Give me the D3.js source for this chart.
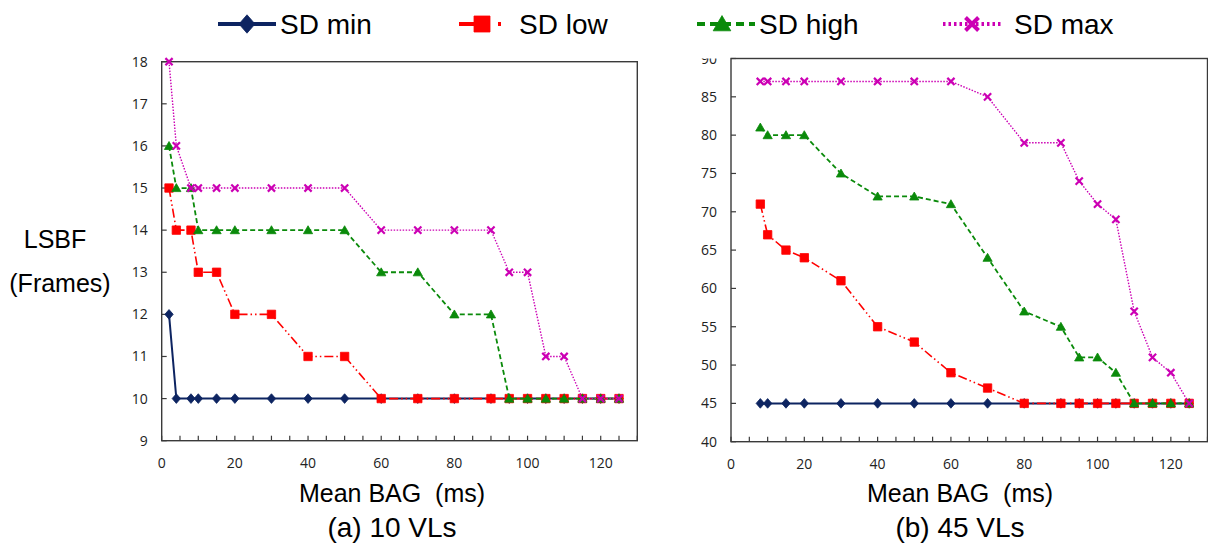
<!DOCTYPE html>
<html><head><meta charset="utf-8">
<script src="https://cdn.jsdelivr.net/npm/d3@7"></script>
<style>html,body{margin:0;padding:0;background:#fff;} svg{display:block;}</style>
</head><body>
<svg id="c" width="1208" height="549"></svg>
<script>
// ---- data ----
const seriesNames = ["SD min", "SD low", "SD high", "SD max"];
const xLeft = [2,4,8,10,15,20,30,40,50,60,70,80,90,95,100,105,110,115,120,125];
const leftMin  = [12,10,10,10,10,10,10,10,10,10,10,10,10,10,10,10,10,10,10,10];
const leftLow  = [15,14,14,13,13,12,12,11,11,10,10,10,10,10,10,10,10,10,10,10];
const leftHigh = [16,15,15,14,14,14,14,14,14,13,13,12,12,10,10,10,10,10,10,10];
const leftMax  = [18,16,15,15,15,15,15,15,15,14,14,14,14,13,13,11,11,10,10,10];
const xRight = [8,10,15,20,30,40,50,60,70,80,90,95,100,105,110,115,120,125];
const rightMin  = [45,45,45,45,45,45,45,45,45,45,45,45,45,45,45,45,45,45];
const rightLow  = [71,67,65,64,61,55,53,49,47,45,45,45,45,45,45,45,45,45];
const rightHigh = [81,80,80,80,75,72,72,71,64,57,55,51,51,49,45,45,45,45];
const rightMax  = [87,87,87,87,87,87,87,87,85,79,79,74,71,69,57,51,49,45];
const xTickLabels = [0,20,40,60,80,100,120];
const leftYTicks = [9,10,11,12,13,14,15,16,17,18];
const rightYTicks = [40,45,50,55,60,65,70,75,80,85,90];
const xTitle = "Mean BAG  (ms)";
const panelTitles = ["(a) 10 VLs", "(b) 45 VLs"];
const yTitle = ["LSBF", "(Frames)"];

// ---- styles ----
const styles = {
  "SD min":  {color:"#0d2461", dash:null, w:2, marker:"diamond"},
  "SD low":  {color:"#ff0000", dash:"9,3,1.5,3,1.5,3", w:1.6, marker:"square"},
  "SD high": {color:"#0a8a0a", dash:"5,3", w:1.8, marker:"triangle"},
  "SD max":  {color:"#cc00b4", dash:"1.5,1.5", w:1.4, marker:"x"}
};
const svg = d3.select("#c");
const tickFont = "'Open Sans', sans-serif";
const arial = "'Liberation Sans', Arial, sans-serif";

function markerPath(type, s) {
  if (type === "diamond") return `M0,${-s*1.15}L${s},0L0,${s*1.15}L${-s},0Z`;
  if (type === "square") return `M${-s},${-s}H${s}V${s}H${-s}Z`;
  if (type === "triangle") return `M0,${-s*1.05}L${s*1.1},${s*0.85}L${-s*1.1},${s*0.85}Z`;
  return `M${-s},${-s}L${s},${s}M${-s},${s}L${s},${-s}`;
}
function drawMarker(g, type, color, s, sw) {
  const p = g.append("path").attr("d", markerPath(type, s));
  if (type === "x") p.attr("fill","none").attr("stroke",color).attr("stroke-width",sw||2.2);
  else p.attr("fill",color).attr("stroke",color).attr("stroke-width",0.8).attr("stroke-linejoin","round");
  return p;
}

function panel(cfg) {
  const x = d3.scaleLinear().domain([0,130]).range(cfg.xr);
  const y = d3.scaleLinear().domain(cfg.yd).range(cfg.yr);
  const g = svg.append("g");
  const [x0,x1] = cfg.xr, [yb,yt] = cfg.yr;
  g.append("rect").attr("x",x0).attr("y",yt).attr("width",x1-x0).attr("height",yb-yt)
    .attr("fill","none").attr("stroke","#3a3a3a").attr("stroke-width",1.4);
  g.selectAll(".xt").data(d3.range(0,131,5)).enter().append("line")
    .attr("x1",d=>x(d)).attr("x2",d=>x(d)).attr("y1",yb).attr("y2",yb-5)
    .attr("stroke","#3a3a3a").attr("stroke-width",1.2);
  g.selectAll(".xl").data(xTickLabels).enter().append("text")
    .attr("x",d=>x(d)).attr("y",yb+27).attr("text-anchor","middle")
    .attr("font-family",tickFont).attr("font-size",14).attr("fill","#222").text(d=>d);
  g.selectAll(".yt").data(cfg.yticks).enter().append("line")
    .attr("x1",x0).attr("x2",x0+5).attr("y1",d=>y(d)).attr("y2",d=>y(d))
    .attr("stroke","#3a3a3a").attr("stroke-width",1.2);
  g.selectAll(".yl").data(cfg.yticks).enter().append("text")
    .attr("x",x0-14).attr("y",d=>y(d)+5).attr("text-anchor","end")
    .attr("font-family",tickFont).attr("font-size",14).attr("fill","#222").text(d=>d);
  cfg.series.forEach((vals,i) => {
    const st = styles[seriesNames[i]];
    const pts = cfg.xs.map((xv,j)=>[xv, vals[j]]);
    const line = d3.line().x(d=>x(d[0])).y(d=>y(d[1]));
    const p = g.append("path").attr("d", line(pts)).attr("fill","none")
      .attr("stroke", st.color).attr("stroke-width", st.w);
    if (st.dash) p.attr("stroke-dasharray", st.dash);
    pts.forEach(d => {
      const mg = g.append("g").attr("transform",`translate(${x(d[0])},${y(d[1])})`);
      drawMarker(mg, st.marker, st.color, st.marker==="x"?3.6:4.2, 2.2);
    });
  });
  svg.append("text").attr("x",cfg.titleX).attr("y",502).attr("text-anchor","middle")
    .attr("font-family",arial).attr("font-size",25).attr("fill","#000")
    .style("white-space","pre").text(xTitle);
  svg.append("text").attr("x",cfg.titleX).attr("y",537).attr("text-anchor","middle")
    .attr("font-family",arial).attr("font-size",28).attr("fill","#000").text(cfg.title);
}

panel({xr:[161.7,637.3], yd:[9,18], yr:[440.7,61.7], yticks:leftYTicks, xs:xLeft,
  series:[leftMin,leftLow,leftHigh,leftMax], titleX:392, title:panelTitles[0]});
panel({xr:[731,1207.5], yd:[40,90], yr:[441.7,58.5], yticks:rightYTicks, xs:xRight,
  series:[rightMin,rightLow,rightHigh,rightMax], titleX:960, title:panelTitles[1]});
// top of right image is cropped: hide upper part of "90"
svg.append("rect").attr("x",690).attr("y",38).attr("width",36).attr("height",20.5).attr("fill","#fff");

svg.append("text").attr("x",55).attr("y",248).attr("text-anchor","middle")
  .attr("font-family",arial).attr("font-size",25).attr("fill","#000").text(yTitle[0]);
svg.append("text").attr("x",60).attr("y",292).attr("text-anchor","middle")
  .attr("font-family",arial).attr("font-size",25).attr("fill","#000").text(yTitle[1]);

const legendPos = [{l0:218,l1:276,m:247,t:280},{l0:459,l1:506,m:482,t:519},
                   {l0:697,l1:755,m:722,t:759},{l0:943,l1:1002,m:972,t:1014}];
seriesNames.forEach((n,i) => {
  const st = styles[n], p = legendPos[i];
  const lg = svg.append("g");
  const ln = lg.append("line").attr("x1",p.l0).attr("x2",p.l1).attr("y1",24).attr("y2",24)
    .attr("stroke",st.color).attr("stroke-width",4);
  if (n==="SD low") ln.attr("stroke-dasharray","30,9,3,9");
  if (n==="SD high") ln.attr("stroke-dasharray","8,5");
  if (n==="SD max") ln.attr("stroke-dasharray","2.5,3");
  const mg = lg.append("g").attr("transform",`translate(${p.m},24)`);
  drawMarker(mg, st.marker, st.color, st.marker==="x"?6.5:8, 4);
  lg.append("text").attr("x",p.t).attr("y",34).attr("font-family",arial)
    .attr("font-size",28).attr("fill","#000").text(n);
});
</script>
</body></html>
